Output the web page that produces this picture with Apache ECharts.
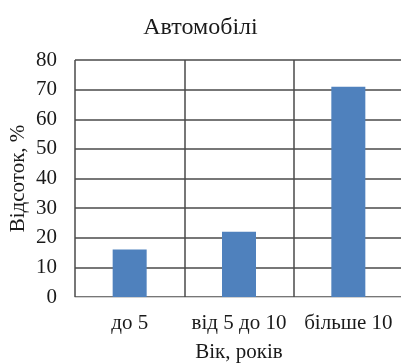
<!DOCTYPE html>
<html>
<head>
<meta charset="utf-8">
<script src="https://cdn.jsdelivr.net/npm/echarts@6/dist/echarts.min.js"></script>
<style>
  html, body { margin: 0; padding: 0; background: #fff; }
  #chart { width: 401px; height: 363px; }
</style>
</head>
<body>
<div id="chart"></div>
<script>
// Частка автомобілів за віком
const categories = ['до 5', 'від 5 до 10', 'більше 10'];
const shares = [16, 22, 71];
const yTicks = [0, 10, 20, 30, 40, 50, 60, 70, 80];

const serif = '"Liberation Serif", "Times New Roman", serif';
const ink = '#1a1a1a';

const chart = echarts.init(document.getElementById('chart'));
chart.setOption({
  animation: false,
  backgroundColor: '#fff',
  title: {
    text: 'Автомобілі',
    left: 'center',
    top: 11,
    textStyle: { fontFamily: serif, fontSize: 24, fontWeight: 'normal', color: ink }
  },
  grid: { left: 75, right: -2, top: 60, bottom: 66, outerBoundsMode: 'none', containLabel: false },
  xAxis: {
    type: 'category',
    data: categories,
    name: 'Вік, років',
    nameLocation: 'middle',
    nameGap: 45,
    nameMoveOverlap: false,
    nameTextStyle: { fontFamily: serif, fontSize: 21, color: ink },
    axisLine: { show: true, lineStyle: { color: '#d0d0d0', width: 1 } },
    axisTick: { show: false },
    axisLabel: { interval: 0, fontFamily: serif, fontSize: 21, color: ink, margin: 16 },
    splitLine: { show: true, interval: 0, lineStyle: { color: '#4a4a4a', width: 1.5 } }
  },
  yAxis: {
    type: 'value',
    min: yTicks[0],
    max: yTicks[yTicks.length - 1],
    interval: yTicks[1] - yTicks[0],
    name: 'Відсоток, %',
    nameLocation: 'middle',
    nameGap: 46,
    nameMoveOverlap: false,
    nameTextStyle: { fontFamily: serif, fontSize: 21, color: ink },
    axisLine: { show: false },
    axisTick: { show: false },
    axisLabel: { fontFamily: serif, fontSize: 21, color: ink, margin: 18 },
    splitLine: { show: true, lineStyle: { color: '#4a4a4a', width: 1.5 } }
  },
  series: [{
    type: 'bar',
    data: shares,
    barWidth: 34,
    itemStyle: { color: '#4F81BD' }
  }]
});
</script>
</body>
</html>
